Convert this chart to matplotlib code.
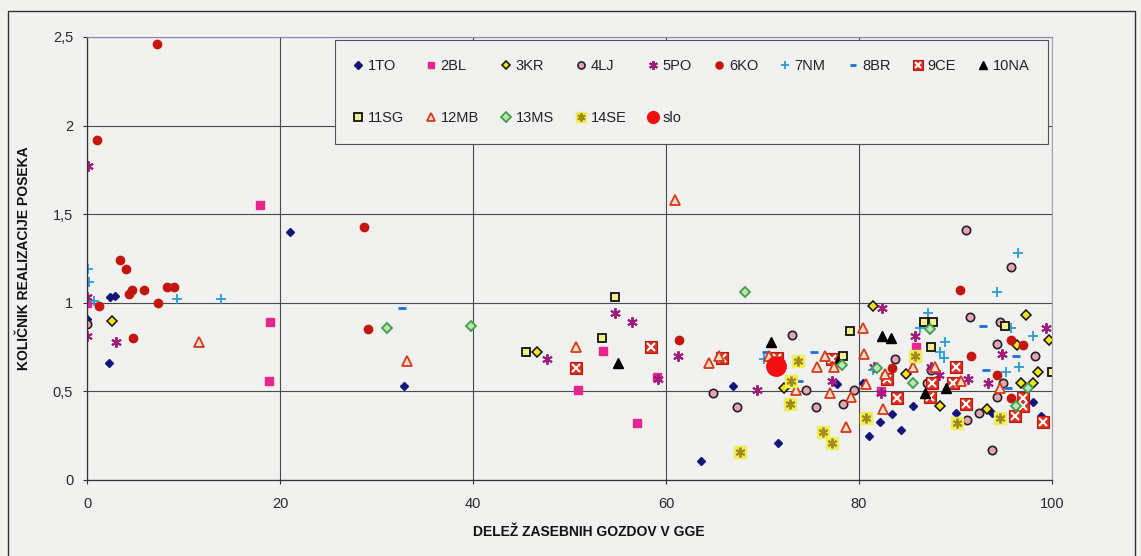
import numpy as np
import matplotlib.pyplot as plt
from matplotlib.lines import Line2D
from matplotlib.patches import Rectangle
from matplotlib.ticker import FuncFormatter

plt.rcParams['font.family'] = ['Liberation Sans', 'DejaVu Sans']

# data (x = delez zasebnih gozdov, y = kolicnik)
x_1to = [0, 2.4, 2.9, 2.3, 21.0, 32.8, 66.9, 63.6, 71.6, 77.7, 80.4, 81.0, 82.2, 83.4, 84.3, 85.6, 90.1, 93.8, 98.0, 98.9]
y_1to = [0.91, 1.03, 1.04, 0.66, 1.40, 0.53, 0.53, 0.11, 0.21, 0.54, 0.55, 0.25, 0.33, 0.37, 0.28, 0.42, 0.38, 0.38, 0.44, 0.36]

x_2bl = [0, 17.9, 19.0, 18.9, 50.9, 53.5, 59.1, 57.0, 82.3, 85.9]
y_2bl = [1.0, 1.55, 0.89, 0.56, 0.51, 0.73, 0.58, 0.32, 0.50, 0.75]

x_3kr = [2.6, 46.6, 81.4, 72.2, 84.9, 88.4, 93.3, 96.4, 97.3, 99.7, 98.6, 96.8, 98.0]
y_3kr = [0.90, 0.72, 0.98, 0.52, 0.60, 0.42, 0.40, 0.76, 0.93, 0.79, 0.61, 0.55, 0.55]

x_4lj = [0, 64.9, 67.4, 73.1, 74.5, 75.5, 79.5, 78.3, 83.7, 87.0, 87.5, 91.1, 95.7, 91.5, 94.6, 94.3, 98.2, 94.9, 94.3, 92.4, 91.2, 93.8]
y_4lj = [0.88, 0.49, 0.41, 0.82, 0.51, 0.41, 0.51, 0.43, 0.68, 0.55, 0.62, 1.41, 1.20, 0.92, 0.89, 0.77, 0.70, 0.55, 0.47, 0.38, 0.34, 0.17]

x_5po = [0.1, 0, 0, 3.0, 47.7, 54.7, 56.5, 59.2, 61.2, 69.4, 77.2, 81.6, 82.4, 82.3, 85.8, 87.5, 88.3, 91.3, 93.4, 94.8, 99.4]
y_5po = [1.77, 1.03, 0.81, 0.78, 0.68, 0.94, 0.89, 0.57, 0.70, 0.51, 0.56, 0.64, 0.97, 0.49, 0.81, 0.64, 0.59, 0.57, 0.55, 0.71, 0.86]

x_6ko = [7.2, 1.0, 3.4, 4.0, 4.7, 4.3, 5.9, 8.3, 9.0, 1.2, 7.4, 4.8, 28.7, 29.1, 61.3, 83.4, 90.5, 91.6, 95.7, 97.0, 94.3, 95.8]
y_6ko = [2.46, 1.92, 1.24, 1.19, 1.07, 1.05, 1.07, 1.09, 1.09, 0.98, 1.0, 0.80, 1.43, 0.85, 0.79, 0.63, 1.07, 0.70, 0.79, 0.76, 0.59, 0.46]

x_7nm = [0.1, 0.2, 0.7, 9.3, 13.9, 70.2, 81.4, 86.3, 87.1, 88.4, 88.8, 88.9, 94.3, 96.5, 95.8, 98.0, 96.6, 95.2]
y_7nm = [1.19, 1.12, 1.01, 1.02, 1.02, 0.68, 0.62, 0.86, 0.94, 0.72, 0.69, 0.78, 1.06, 1.28, 0.86, 0.81, 0.64, 0.61]

x_8br = [32.6, 70.4, 75.3, 73.8, 92.8, 96.3, 93.2, 95.4]
y_8br = [0.97, 0.72, 0.72, 0.56, 0.87, 0.70, 0.62, 0.52]

x_9ce = [50.7, 58.4, 65.8, 71.5, 77.2, 82.9, 83.9, 87.4, 87.6, 89.7, 90.1, 91.1, 96.2, 97.0, 97.0, 99.1]
y_9ce = [0.63, 0.75, 0.69, 0.69, 0.68, 0.57, 0.46, 0.47, 0.55, 0.55, 0.64, 0.43, 0.36, 0.46, 0.42, 0.33]

x_10na = [55.0, 70.9, 77.8, 82.4, 83.3, 86.8, 89.0]
y_10na = [0.66, 0.78, 0.67, 0.81, 0.80, 0.49, 0.52]

x_11sg = [45.5, 54.7, 53.4, 78.3, 79.1, 86.7, 87.7, 87.5, 95.1, 100]
y_11sg = [0.72, 1.03, 0.80, 0.70, 0.84, 0.89, 0.89, 0.75, 0.87, 0.61]

x_12mb = [11.6, 33.2, 50.7, 60.9, 64.5, 65.5, 70.7, 73.5, 75.6, 76.5, 77.4, 77.0, 79.2, 78.7, 80.4, 80.5, 80.7, 82.5, 82.7, 85.6, 87.9, 90.6, 94.6]
y_12mb = [0.78, 0.67, 0.75, 1.58, 0.66, 0.70, 0.70, 0.51, 0.64, 0.70, 0.64, 0.49, 0.47, 0.30, 0.86, 0.71, 0.54, 0.40, 0.60, 0.64, 0.64, 0.56, 0.52]

x_13ms = [31.1, 39.8, 68.2, 78.2, 81.9, 85.6, 87.4, 97.5, 96.3]
y_13ms = [0.86, 0.87, 1.06, 0.65, 0.63, 0.55, 0.85, 0.52, 0.42]

x_14se = [67.7, 73.7, 73.0, 72.8, 76.3, 77.2, 80.7, 85.8, 90.2, 94.6]
y_14se = [0.16, 0.67, 0.56, 0.43, 0.27, 0.21, 0.35, 0.70, 0.32, 0.35]

x_slo = [71.4]
y_slo = [0.645]

bg = '#f1f1ef'
fig = plt.figure(figsize=(11.41, 5.56), dpi=100, facecolor=bg)
ax = fig.add_axes([0.0763, 0.1367, 0.8457, 0.7968])
ax.set_facecolor(bg)

ms = 5.5
h = {}
h['1TO'] = ax.plot(x_1to, y_1to, 'D', ms=ms - 1, color='#141478', mec='#141478', ls='none')[0]
h['2BL'] = ax.plot(x_2bl, y_2bl, 's', ms=ms, color='#e8258e', mec='#e8258e', ls='none')[0]
h['3KR'] = ax.plot(x_3kr, y_3kr, 'D', ms=ms - 0.5, mfc='#f2e41c', mec='#111111', mew=1.1, ls='none')[0]
h['4LJ'] = ax.plot(x_4lj, y_4lj, 'o', ms=ms + 0.5, mfc='#e9a3b8', mec='#222222', mew=1.2, ls='none')[0]
h['5PO'] = ax.plot(x_5po, y_5po, marker=(6, 2, 0), ms=ms + 2, color='#a01c7c', mew=1.4, ls='none')[0]
h['6KO'] = ax.plot(x_6ko, y_6ko, 'o', ms=ms + 0.5, color='#c4160e', mec='#c4160e', ls='none')[0]
h['7NM'] = ax.plot(x_7nm, y_7nm, '+', ms=ms + 2, color='#2a9ad4', mew=1.3, ls='none')[0]
h['8BR'] = ax.plot(x_8br, y_8br, '_', ms=ms, color='#1f6fd6', mew=2.0, ls='none')[0]
sq9 = ax.plot(x_9ce, y_9ce, 's', ms=ms + 3, mfc='#dc2f1f', mec='#b81a10', mew=0.8, ls='none')[0]
xx9 = ax.plot(x_9ce, y_9ce, 'x', ms=ms, color='white', mew=1.5, ls='none')[0]
h['9CE'] = (sq9, xx9)
h['10NA'] = ax.plot(x_10na, y_10na, '^', ms=ms + 1.5, color='#000000', ls='none')[0]
h['11SG'] = ax.plot(x_11sg, y_11sg, 's', ms=ms + 0.5, mfc='#f2f08e', mec='#111111', mew=1.3, ls='none')[0]
h['12MB'] = ax.plot(x_12mb, y_12mb, '^', ms=ms + 1.5, mfc='#f3dccb', mec='#d43a1a', mew=1.3, ls='none')[0]
h['13MS'] = ax.plot(x_13ms, y_13ms, 'D', ms=ms, mfc='#bfe4b4', mec='#3f9f4a', mew=1.3, ls='none')[0]
sq14 = ax.plot(x_14se, y_14se, 's', ms=ms + 3, mfc='#eef05a', mec='#eef05a', ls='none')[0]
st14 = ax.plot(x_14se, y_14se, marker=(6, 2, 0), ms=ms + 1.5, color='#a48a1c', mew=1.4, ls='none')[0]
h['14SE'] = (sq14, st14)
ax.plot(x_slo, y_slo, 'o', ms=14, color='#f01010', mec='#f01010', ls='none')
# smaller marker for the legend entry of slo
h['slo'] = Line2D([], [], marker='o', ms=10, color='#f01010', ls='none')

ax.set_xlim(0, 100)
ax.set_ylim(0, 2.5)
ax.set_xticks([0, 20, 40, 60, 80, 100])
ax.set_yticks([0, 0.5, 1, 1.5, 2, 2.5])
ax.yaxis.set_major_formatter(FuncFormatter(lambda v, p: ('%g' % v).replace('.', ',')))
ax.grid(True, color='#4a4a55', lw=0.8)
ax.set_axisbelow(True)
ax.tick_params(axis='both', direction='out', length=3, width=0.8, color='#333333',
               labelsize=10.5, labelcolor='#2a2a2a')
ax.tick_params(axis='x', pad=9)
ax.tick_params(axis='y', pad=7)
for s in ['left', 'bottom']:
    ax.spines[s].set_color('#333333')
    ax.spines[s].set_linewidth(0.9)
ax.spines['top'].set_color('#8a84b4')
ax.spines['right'].set_color('#a4a4ac')

ax.set_xlabel('DELEŽ ZASEBNIH GOZDOV V GGE', fontsize=10, fontweight='bold', color='#111111')
ax.set_ylabel('KOLIČNIK REALIZACIJE POSEKA', fontsize=10, fontweight='bold', color='#111111')
ax.xaxis.set_label_coords(0.52, -0.102)
ax.yaxis.set_label_coords(-0.058, 0.5)

# legend: two rows, columns filled top/bottom
order = ['1TO', '11SG', '2BL', '12MB', '3KR', '13MS', '4LJ', '14SE', '5PO', 'slo',
         '6KO', '7NM', '8BR', '9CE', '10NA']
handles = [h[k] for k in order]
leg = ax.legend(handles, order, ncol=10, loc='upper left', mode='expand',
                bbox_to_anchor=(0.257, 0.774, 0.739, 0.219), borderaxespad=0,
                fontsize=10.5, handlelength=0.6, handletextpad=0.35,
                labelspacing=2.6, borderpad=1.3, markerscale=0.85,
                frameon=True, fancybox=False, facecolor=bg, edgecolor='#555555', framealpha=1)
leg.get_frame().set_linewidth(0.8)
for t in leg.get_texts():
    t.set_color('#222222')

# outer chart frame
fig.patches.append(Rectangle((8 / 1141, -0.05), (1135 - 8) / 1141, 1 + 0.05 - 11 / 556,
                             transform=fig.transFigure, fill=False, ec='#333333', lw=1.0))

fig.savefig('out.png', dpi=100, facecolor=bg)
